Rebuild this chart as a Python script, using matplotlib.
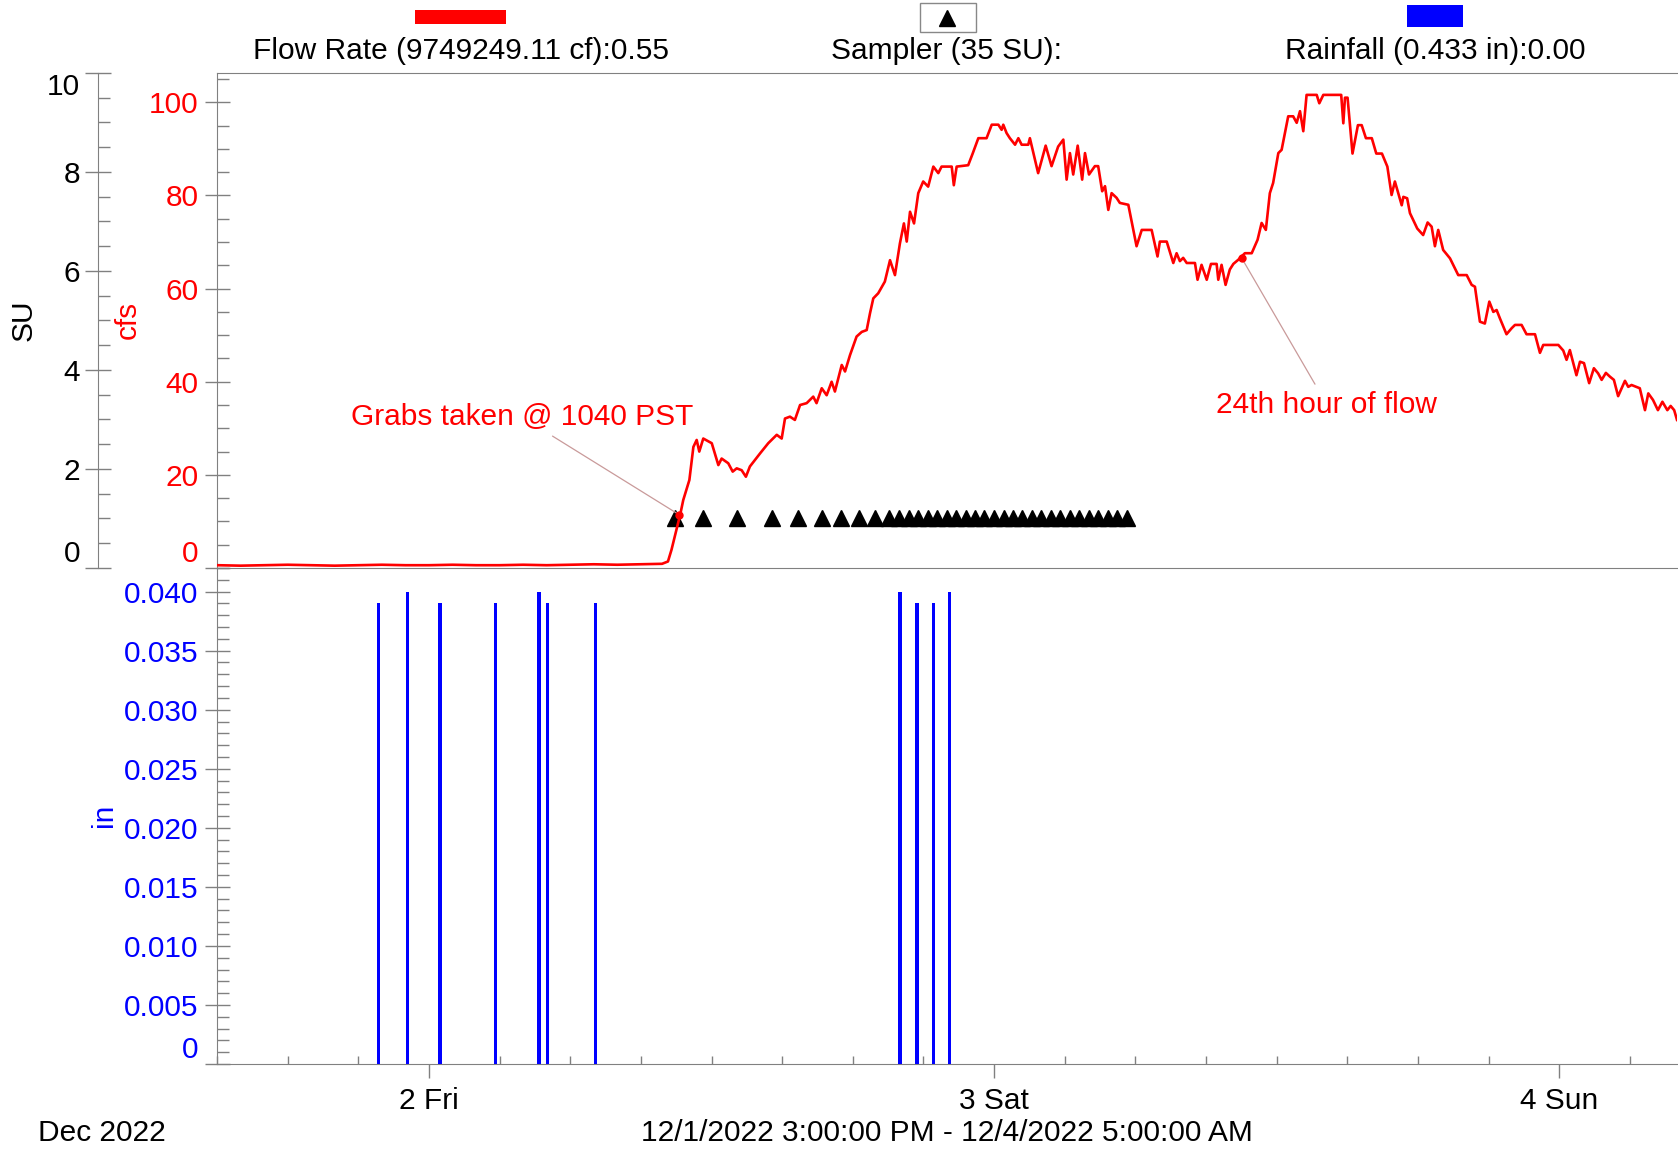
import matplotlib
matplotlib.use("Agg")
import matplotlib.pyplot as plt
import matplotlib.dates as mdates
from matplotlib.ticker import MultipleLocator, FuncFormatter
from matplotlib.patches import Rectangle
from matplotlib.lines import Line2D
import pandas as pd

plt.rcParams['font.family'] = ['Liberation Sans', 'DejaVu Sans']

# ---------------- data ----------------
start_time = "2022-12-01 15:00"
end_time = "2022-12-04 05:00"

# flow rate (cfs), hours after 12/1 15:00
flow_hours = [0, 1, 2, 3, 4, 5, 6, 7, 8, 9, 10, 11, 12, 13, 14, 15, 16, 17, 18, 18.9,
              19.15, 19.30, 19.68, 19.80, 20.06, 20.23, 20.37, 20.48, 20.65, 21.01,
              21.29, 21.43, 21.71, 21.90, 22.07, 22.28, 22.46, 22.63, 23.06, 23.41,
              23.77, 23.98, 24.12, 24.33, 24.54, 24.76, 25.04, 25.32, 25.46, 25.68,
              25.89, 26.10, 26.24, 26.53, 26.67, 26.88, 27.16, 27.38, 27.59, 27.73,
              27.87, 28.08, 28.36, 28.58, 28.79, 29.00, 29.17, 29.29, 29.43, 29.60,
              29.78, 29.99, 30.20, 30.42, 30.63, 30.77, 31.20, 31.29, 31.41, 31.90,
              32.09, 32.33, 32.68, 32.90, 33.18, 33.32, 33.39, 33.53, 33.67, 33.89,
              34.03, 34.17, 34.45, 34.52, 34.87, 35.19, 35.44, 35.72, 35.94, 36.08,
              36.22, 36.36, 36.55, 36.74, 36.86, 37.03, 37.28, 37.42, 37.59, 37.71,
              37.85, 37.99, 38.20, 38.34, 38.70, 39.05, 39.27, 39.69, 39.94, 40.04,
              40.33, 40.61, 40.75, 40.89, 41.03, 41.18, 41.53, 41.64, 41.81, 42.03,
              42.21, 42.45, 42.52, 42.66, 42.83, 43.01, 43.16, 43.37, 43.65, 43.94,
              44.19, 44.36, 44.54, 44.71, 44.85, 45.07, 45.21, 45.49, 45.70, 45.85,
              45.99, 46.13, 46.27, 46.70, 46.81, 46.98, 47.74, 47.83, 47.90, 48.01,
              48.22, 48.45, 48.61, 48.79, 49.04, 49.23, 49.47, 49.70, 49.88, 50.02,
              50.16, 50.31, 50.38, 50.54, 50.66, 50.97, 51.22, 51.41, 51.58, 51.72,
              51.86, 52.07, 52.36, 52.71, 53.07, 53.28, 53.42, 53.63, 53.84, 54.03,
              54.20, 54.34, 54.48, 54.76, 54.98, 55.12, 55.40, 55.61, 55.97, 56.18,
              56.32, 56.96, 57.17, 57.31, 57.45, 57.73, 57.88, 58.05, 58.27, 58.47,
              58.65, 58.80, 58.98, 59.15, 59.32, 59.50, 59.79, 59.93, 60.07, 60.42,
              60.64, 60.78, 60.98, 61.19, 61.38, 61.59, 61.73, 61.88, 62.0]
flow_cfs = [0.6, 0.5, 0.6, 0.7, 0.6, 0.5, 0.6, 0.7, 0.6, 0.6, 0.7, 0.6, 0.6, 0.7, 0.6, 0.7, 0.8, 0.7, 0.8, 0.9,
            1.4, 3.9, 11.7, 14.6, 18.9, 26.0, 27.5, 25.0, 27.8, 26.8,
            22.1, 23.5, 22.5, 20.7, 21.4, 21.0, 19.6, 21.8, 24.6, 26.8,
            28.6, 27.8, 32.1, 32.5, 31.8, 35.0, 35.4, 36.8, 35.4, 38.6,
            37.1, 40.0, 37.9, 43.6, 42.2, 45.7, 49.7, 50.7, 51.1, 54.7,
            57.9, 59.0, 61.5, 66.1, 62.9, 69.7, 74.0, 70.1, 76.5, 74.0,
            80.5, 83.0, 81.9, 86.2, 84.8, 86.2, 86.2, 82.2, 86.2, 86.5,
            89.0, 92.3, 92.3, 95.2, 95.2, 94.1, 95.2, 93.4, 92.3, 90.9,
            92.3, 90.9, 90.9, 92.3, 84.8, 90.7, 86.3, 90.5, 92.0, 83.4,
            89.1, 84.5, 90.7, 83.4, 89.1, 84.5, 86.3, 86.3, 80.9, 82.0,
            76.9, 80.5, 79.5, 78.4, 78.0, 69.1, 72.6, 72.6, 66.9, 70.1,
            70.1, 65.5, 67.6, 65.9, 66.6, 65.5, 65.5, 61.9, 65.1, 61.9,
            65.3, 65.3, 61.9, 65.1, 60.8, 64.1, 65.3, 66.2, 67.6, 67.6,
            70.5, 74.1, 72.6, 80.5, 82.7, 89.1, 89.8, 97.0, 97.0, 95.6,
            98.1, 93.8, 101.6, 101.6, 99.8, 101.6, 101.6, 95.5, 101.0, 101.0,
            89.0, 95.1, 95.1, 92.3, 92.3, 89.0, 89.0, 86.2, 80.1, 83.0,
            80.5, 77.9, 79.7, 79.4, 76.2, 72.9, 71.5, 74.2, 73.3, 69.1,
            72.6, 68.3, 66.5, 62.9, 62.9, 60.8, 60.4, 52.9, 52.5, 57.2,
            55.0, 55.4, 53.6, 50.2, 51.5, 52.2, 52.2, 50.2, 50.2, 46.2,
            47.9, 47.9, 46.7, 44.7, 46.8, 41.4, 44.3, 44.0, 39.7, 42.9,
            41.8, 40.4, 41.9, 41.1, 40.4, 36.9, 40.2, 38.9, 39.3, 38.6,
            33.9, 37.5, 36.1, 33.9, 35.7, 33.9, 34.8, 33.9, 31.8]

# sampler events (SU), hours after 12/1 15:00
sampler_hours = [19.45, 20.65, 22.07, 23.55, 24.66, 25.68, 26.50, 27.26, 27.94, 28.55,
                 28.97, 29.37, 29.77, 30.18, 30.58, 30.98, 31.38, 31.79, 32.19, 32.59,
                 32.99, 33.40, 33.80, 34.20, 34.60, 35.00, 35.41, 35.81, 36.21, 36.61,
                 37.02, 37.42, 37.82, 38.22, 38.63]
sampler_level = 1.0

# rainfall (in), hours after 12/1 15:00
rain_hours = [6.85, 8.08, 9.47, 11.83, 13.67, 14.03, 16.06, 29.00, 29.73, 30.41, 31.10]
rain_in = [0.039, 0.040, 0.039, 0.039, 0.040, 0.039, 0.039, 0.040, 0.039, 0.039, 0.040]

cfs_ticks = [0, 20, 40, 60, 80, 100]
su_ticks = [0, 2, 4, 6, 8, 10]
in_ticks = [0, 0.005, 0.010, 0.015, 0.020, 0.025, 0.030, 0.035, 0.040]

legend_labels = ["Flow Rate (9749249.11 cf):0.55", "Sampler (35 SU):", "Rainfall (0.433 in):0.00"]
range_label = "12/1/2022 3:00:00 PM - 12/4/2022 5:00:00 AM"
month_label = "Dec 2022"

grab_note = ("Grabs taken @ 1040 PST", 19.64, 11.4, 12.95, 32.4)
hour24_note = ("24th hour of flow", 43.51, 66.6, 47.13, 35.1)

# ---------------- helpers ----------------
W, H = 1678, 1150
t0 = pd.Timestamp(start_time)
t1 = pd.Timestamp(end_time)


def to_time(hours):
    return (t0 + pd.to_timedelta(hours, unit="h")).to_pydatetime()


def fx(x):
    return x / W


def fy(y):
    return 1 - y / H


fs = 21.5
GRAY = "#808080"

fig = plt.figure(figsize=(W / 100, H / 100), dpi=100)
L, R = fx(217), fx(1677)
ax1 = fig.add_axes([L, fy(568), R - L, fy(73) - fy(568)])
ax2 = fig.add_axes([L, fy(1064), R - L, fy(568) - fy(1064)], sharex=ax1)
ax_su = ax1.twinx()

# ---------------- upper panel ----------------
flow_t = to_time(flow_hours)
ax1.plot(flow_t, flow_cfs, color="#ff0000", lw=1.9, zorder=3)
ax1.set_ylim(0, 106.3)
ax1.set_yticks(cfs_ticks)
ax1.yaxis.set_minor_locator(MultipleLocator(5))
ax1.tick_params(axis="y", which="major", direction="inout", length=18, width=1,
                color=GRAY, labelcolor="#ff0000", labelsize=fs, pad=4.5)
ax1.tick_params(axis="y", which="minor", direction="in", length=8.6, width=1, color=GRAY)
ax1.tick_params(axis="x", which="both", bottom=False, labelbottom=False)
for s in ["right"]:
    ax1.spines[s].set_visible(False)
for s in ["top", "bottom", "left"]:
    ax1.spines[s].set_color(GRAY)

samp_t = to_time(sampler_hours)
ax_su.plot(samp_t, [sampler_level] * len(samp_t), linestyle="none", marker="^",
           ms=11.5, color="black")
ax_su.set_ylim(0, 10)
ax_su.set_yticks(su_ticks)
ax_su.yaxis.set_minor_locator(MultipleLocator(0.5))
ax_su.yaxis.tick_left()
ax_su.spines["left"].set_visible(True)
ax_su.spines["left"].set_position(("outward", 85.7))
ax_su.spines["left"].set_color(GRAY)
for s in ["right", "top", "bottom"]:
    ax_su.spines[s].set_visible(False)
ax_su.tick_params(axis="y", which="major", direction="inout", length=19.4, width=1,
                  color=GRAY, labelcolor="black", labelsize=fs, pad=3.0)
ax_su.tick_params(axis="y", which="minor", direction="in", length=8.6, width=1, color=GRAY)
ax1.set_zorder(ax_su.get_zorder() + 1)
ax1.patch.set_visible(False)

for note in (grab_note, hour24_note):
    txt, ph, pv, th, tv = note
    pt = to_time([ph])[0]
    tt = to_time([th])[0]
    ax1.annotate(txt, xy=(pt, pv), xytext=(tt, tv), textcoords="data",
                 color="#ff0000", fontsize=fs, ha="center", va="center",
                 arrowprops=dict(arrowstyle="-", color="#c99a9a", lw=0.9,
                                 shrinkA=3, shrinkB=0), zorder=4)
    ax1.plot([pt], [pv], marker="o", ms=5, color="#ff0000", zorder=5)

# ---------------- lower panel ----------------
rain_t = to_time(rain_hours)
ax2.bar(rain_t, rain_in, width=3.2 / (23.55 * 24), color="#0000ff", zorder=3)
ax2.set_ylim(0, 0.042)
ax2.set_yticks(in_ticks)
ax2.yaxis.set_major_formatter(FuncFormatter(lambda v, p: "0" if abs(v) < 1e-9 else f"{v:.3f}"))
ax2.yaxis.set_minor_locator(MultipleLocator(0.001))
ax2.tick_params(axis="y", which="major", direction="inout", length=18, width=1,
                color=GRAY, labelcolor="#0000ff", labelsize=fs, pad=4.5)
ax2.tick_params(axis="y", which="minor", direction="in", length=8.6, width=1, color=GRAY)
for s in ["right", "top"]:
    ax2.spines[s].set_visible(False)
for s in ["bottom", "left"]:
    ax2.spines[s].set_color(GRAY)

ax2.set_xlim(t0.to_pydatetime(), t1.to_pydatetime())
ax2.xaxis.set_major_locator(mdates.DayLocator())
ax2.xaxis.set_major_formatter(FuncFormatter(
    lambda v, p: f"{mdates.num2date(v).day} {mdates.num2date(v):%a}"))
ax2.xaxis.set_minor_locator(mdates.HourLocator(byhour=range(0, 24, 3)))
ax2.tick_params(axis="x", which="major", direction="out", length=10, width=1,
                color=GRAY, labelsize=fs, pad=6.5)
ax2.tick_params(axis="x", which="minor", direction="in", length=5.5, width=1, color=GRAY)

# edge tick labels nudged inside (as in the reference)
fig.canvas.draw()
ax1.yaxis.get_major_ticks()[0].label1.set_va("bottom")
ax_su.yaxis.get_major_ticks()[0].label1.set_va("bottom")
ax_su.yaxis.get_major_ticks()[-1].label1.set_va("top")
ax2.yaxis.get_major_ticks()[0].label1.set_va("bottom")

# ---------------- axis titles ----------------
fig.text(fx(23.5), fy(320), "SU", rotation=90, ha="center", va="center", fontsize=fs, color="black")
fig.text(fx(128), fy(320), "cfs", rotation=90, ha="center", va="center", fontsize=fs, color="#ff0000")
fig.text(fx(104), fy(815), "in", rotation=90, ha="center", va="center", fontsize=fs, color="#0000ff")
fig.text(fx(102), fy(1133), month_label, ha="center", va="center", fontsize=fs)
fig.text(fx(947), fy(1133), range_label, ha="center", va="center", fontsize=fs)

# ---------------- legend ----------------
fig.text(fx(461), fy(51), legend_labels[0], ha="center", va="center", fontsize=fs)
fig.text(fx(947), fy(51), legend_labels[1], ha="center", va="center", fontsize=fs)
fig.text(fx(1435), fy(51), legend_labels[2], ha="center", va="center", fontsize=fs)
fig.add_artist(Rectangle((fx(415), fy(24)), fx(506) - fx(415), fy(10) - fy(24),
                         transform=fig.transFigure, facecolor="#ff0000", edgecolor="none"))
fig.add_artist(Rectangle((fx(920), fy(32)), fx(976) - fx(920), fy(3) - fy(32),
                         transform=fig.transFigure, facecolor="white", edgecolor="#888888", lw=1))
fig.add_artist(Line2D([fx(947)], [fy(18)], transform=fig.transFigure, marker="^",
                      ms=11.5, color="black", linestyle="none"))
fig.add_artist(Rectangle((fx(1407), fy(27)), fx(1463) - fx(1407), fy(5) - fy(27),
                         transform=fig.transFigure, facecolor="#0000ff", edgecolor="none"))

fig.savefig("out.png", dpi=100, facecolor="white")
